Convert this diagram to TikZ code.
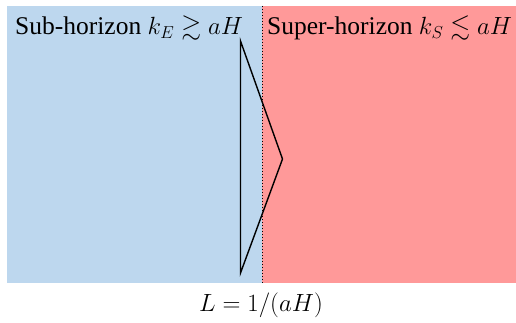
\documentclass[tikz,border=0pt]{standalone}
\usepackage{amssymb}
\usepackage{fontspec}
\setmainfont{Liberation Serif}
\definecolor{subblue}{HTML}{BDD7EE}
\definecolor{superred}{HTML}{FF9999}
\begin{document}
\begin{tikzpicture}[x=1pt,y=-1pt,
  lbl/.style={inner sep=0pt,font=\fontsize{25.5}{30}\selectfont},
  wedge/.style={draw=black,line width=1.4pt,line join=miter}]
\useasboundingbox (0,0) rectangle (516,323);
\fill[subblue] (7,6) rectangle (262,283);
\fill[superred] (262,6) rectangle (516,283);
\coordinate (dtop) at (262,6);
\coordinate (dbot) at (262,283);
\draw[dotted,line width=1pt] (dtop) -- (dbot);
\coordinate (t1) at (240.5,41);
\coordinate (t2) at (240.5,273);
\coordinate (t3) at (282.5,159);
\draw[wedge] (t1) -- (t3) -- (t2) -- cycle;
\node[lbl,anchor=base west] (sub) at (15,35) {Sub-horizon $k_E\gtrsim aH$};
\node[lbl,anchor=base west] (sup) at (267,35) {Super-horizon $k_S\lesssim aH$};
\node[lbl,anchor=base] (len) at (261,311) {$L=1/(aH)$};
\end{tikzpicture}
\end{document}
